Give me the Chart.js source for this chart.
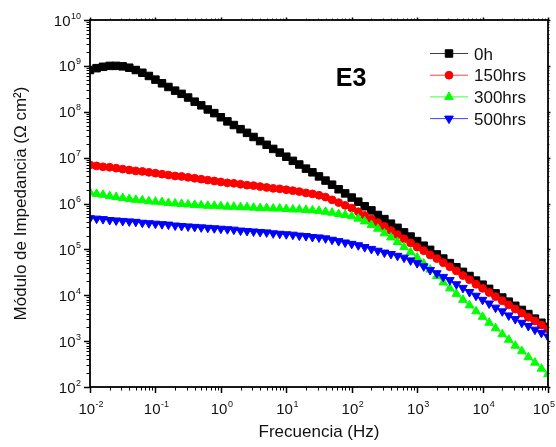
<!DOCTYPE html>
<html lang="es">
<head>
<meta charset="utf-8">
<title>Módulo de impedancia E3</title>
<script src="https://cdn.jsdelivr.net/npm/chart.js@4.4.1/dist/chart.umd.min.js"></script>
<style>
  html, body { margin: 0; padding: 0; background: #fff; }
  #wrap { width: 556px; height: 447px; }
</style>
</head>
<body>
<div id="wrap"><canvas id="bode" width="556" height="447"></canvas></div>
<script>
const FONT = '"Liberation Sans", Arial, Helvetica, sans-serif';

// measured frequencies, 10 points per decade (Hz)
const frequencies = [
  0.01, 0.0126, 0.0158, 0.02, 0.0251, 0.0316, 0.0398, 0.0501, 0.0631, 0.0794,
  0.1, 0.126, 0.158, 0.2, 0.251, 0.316, 0.398, 0.501, 0.631, 0.794,
  1, 1.26, 1.58, 2, 2.51, 3.16, 3.98, 5.01, 6.31, 7.94,
  10, 12.6, 15.8, 20, 25.1, 31.6, 39.8, 50.1, 63.1, 79.4,
  100, 126, 158, 200, 251, 316, 398, 501, 631, 794,
  1000, 1260, 1580, 2000, 2510, 3160, 3980, 5010, 6310, 7940,
  10000, 12600, 15800, 20000, 25100, 31600, 39800, 50100, 63100, 79400,
  100000,
];

// |Z| for each immersion time, written as decades: log10(|Z| / ohm cm2)
const logZ0h = [
  8.91, 8.95, 8.98, 9.00, 9.00, 8.99, 8.96, 8.91, 8.85, 8.78,
  8.70, 8.62, 8.54, 8.46, 8.39, 8.31, 8.22, 8.14, 8.05, 7.97,
  7.88, 7.79, 7.71, 7.62, 7.54, 7.45, 7.36, 7.28, 7.19, 7.11,
  7.02, 6.93, 6.85, 6.76, 6.68, 6.59, 6.50, 6.41, 6.31, 6.22,
  6.13, 6.04, 5.94, 5.85, 5.75, 5.66, 5.56, 5.47, 5.37, 5.28,
  5.18, 5.08, 4.99, 4.89, 4.80, 4.70, 4.61, 4.51, 4.42, 4.32,
  4.23, 4.14, 4.04, 3.95, 3.86, 3.77, 3.68, 3.59, 3.49, 3.40,
  3.31,
];
const logZ150h = [
  6.84, 6.82, 6.80, 6.79, 6.77, 6.75, 6.73, 6.71, 6.70, 6.68,
  6.66, 6.64, 6.62, 6.60, 6.59, 6.57, 6.55, 6.53, 6.51, 6.49,
  6.47, 6.45, 6.44, 6.42, 6.40, 6.39, 6.37, 6.35, 6.33, 6.32,
  6.30, 6.28, 6.26, 6.23, 6.21, 6.18, 6.14, 6.08, 6.02, 5.96,
  5.90, 5.82, 5.74, 5.66, 5.58, 5.50, 5.41, 5.32, 5.23, 5.14,
  5.05, 4.97, 4.88, 4.80, 4.71, 4.62, 4.53, 4.43, 4.34, 4.24,
  4.15, 4.06, 3.97, 3.88, 3.79, 3.70, 3.61, 3.52, 3.44, 3.35,
  3.26,
];
const logZ300h = [
  6.24, 6.21, 6.19, 6.16, 6.14, 6.12, 6.10, 6.08, 6.07, 6.05,
  6.04, 6.03, 6.01, 6.00, 5.99, 5.98, 5.97, 5.96, 5.95, 5.95,
  5.94, 5.93, 5.93, 5.92, 5.92, 5.91, 5.90, 5.90, 5.89, 5.89,
  5.88, 5.87, 5.87, 5.86, 5.85, 5.84, 5.82, 5.80, 5.77, 5.75,
  5.72, 5.67, 5.61, 5.53, 5.45, 5.35, 5.26, 5.16, 5.05, 4.94,
  4.82, 4.69, 4.56, 4.42, 4.28, 4.15, 4.03, 3.90, 3.78, 3.65,
  3.53, 3.40, 3.28, 3.15, 3.03, 2.90, 2.78, 2.65, 2.53, 2.40,
  2.28,
];
const logZ500h = [
  5.68, 5.67, 5.66, 5.64, 5.63, 5.62, 5.61, 5.60, 5.58, 5.57,
  5.56, 5.55, 5.54, 5.52, 5.51, 5.50, 5.49, 5.48, 5.47, 5.46,
  5.45, 5.44, 5.43, 5.41, 5.40, 5.39, 5.38, 5.37, 5.35, 5.34,
  5.33, 5.32, 5.30, 5.29, 5.27, 5.26, 5.24, 5.21, 5.18, 5.15,
  5.12, 5.09, 5.05, 5.01, 4.97, 4.93, 4.90, 4.86, 4.82, 4.76,
  4.70, 4.63, 4.55, 4.48, 4.40, 4.33, 4.24, 4.16, 4.07, 3.99,
  3.90, 3.82, 3.73, 3.65, 3.56, 3.48, 3.40, 3.33, 3.25, 3.18,
  3.10,
];

const seriesLabels = ["0h", "150hrs", "300hrs", "500hrs"];
const xTickExps = [-2, -1, 0, 1, 2, 3, 4, 5];
const yTickExps = [2, 3, 4, 5, 6, 7, 8, 9, 10];
const panelLabel = "E3";

function toPoints(logValues) {
  return frequencies.map((f, i) => ({ x: f, y: Math.pow(10, logValues[i]) }));
}

function makeSeries(label, logValues, color, pointStyle, radius, rotation, order) {
  return {
    label,
    data: toPoints(logValues),
    showLine: true,
    borderColor: color,
    borderWidth: 1,
    backgroundColor: color,
    pointStyle,
    pointRadius: radius,
    pointRotation: rotation,
    pointBackgroundColor: color,
    pointBorderColor: color,
    pointBorderWidth: 1,
    order,
  };
}

const datasets = [
  makeSeries(seriesLabels[0], logZ0h, "#000000", "rect", 5.3, 0, 4),
  makeSeries(seriesLabels[1], logZ150h, "#ff0000", "circle", 3.9, 0, 3),
  makeSeries(seriesLabels[2], logZ300h, "#00ff00", "triangle", 5, 0, 2),
  makeSeries(seriesLabels[3], logZ500h, "#0000ff", "triangle", 5, 180, 1),
];

// decade ticks plus the 2..9 minor ticks in between
function decadeTicks(exps) {
  const ticks = [];
  exps.forEach((e, i) => {
    ticks.push({ value: Math.pow(10, e), major: true, exp: e });
    if (i < exps.length - 1) {
      for (let m = 2; m <= 9; m++) {
        ticks.push({ value: m * Math.pow(10, e), major: false });
      }
    }
  });
  return ticks;
}

// "10" with a raised exponent; align is "center" or "right"
function drawPower(ctx, exp, px, baseline, align, maxRight) {
  const expText = String(exp);
  ctx.font = `15px ${FONT}`;
  const wBase = ctx.measureText("10").width;
  ctx.font = `9px ${FONT}`;
  const wExp = ctx.measureText(expText).width;
  const total = wBase + wExp + 0.5;
  let left = align === "center" ? px - total / 2 : px - total;
  if (maxRight !== undefined && left + total > maxRight) left = maxRight - total;
  ctx.textAlign = "left";
  ctx.textBaseline = "alphabetic";
  ctx.font = `15px ${FONT}`;
  ctx.fillText("10", left, baseline);
  ctx.font = `9px ${FONT}`;
  ctx.fillText(expText, left + wBase + 0.5, baseline - 7);
}

const axesFrame = {
  id: "axesFrame",
  afterDraw(chart) {
    const { ctx, chartArea: a, scales } = chart;
    const { x, y } = scales;
    ctx.save();
    ctx.strokeStyle = "#000";
    ctx.fillStyle = "#000";

    // tick marks: outward on bottom/left, short mirror ticks on top/right
    [true, false].forEach((major) => {
      ctx.lineWidth = major ? 1.5 : 1;
      const len = major ? 6 : 3.5;
      ctx.beginPath();
      x.ticks.filter((t) => !!t.major === major).forEach((t) => {
        const px = Math.round(x.getPixelForValue(t.value)) + 0.5;
        ctx.moveTo(px, a.bottom);
        ctx.lineTo(px, a.bottom + len);
        ctx.moveTo(px, a.top);
        ctx.lineTo(px, a.top - len / 2.5);
      });
      y.ticks.filter((t) => !!t.major === major).forEach((t) => {
        const py = Math.round(y.getPixelForValue(t.value)) + 0.5;
        ctx.moveTo(a.left, py);
        ctx.lineTo(a.left - len, py);
        ctx.moveTo(a.right, py);
        ctx.lineTo(a.right + len / 2.5, py);
      });
      ctx.stroke();
    });

    ctx.lineWidth = 1.8;
    ctx.strokeRect(a.left, a.top, a.right - a.left, a.bottom - a.top);

    // tick labels as powers of ten
    ctx.fillStyle = "#111";
    x.ticks.filter((t) => t.major).forEach((t) => {
      drawPower(ctx, t.exp, x.getPixelForValue(t.value) + 1, a.bottom + 27, "center", 555);
    });
    y.ticks.filter((t) => t.major).forEach((t) => {
      drawPower(ctx, t.exp, a.left - 9, y.getPixelForValue(t.value) + 5.5, "right");
    });

    // panel tag
    ctx.fillStyle = "#000";
    ctx.font = `bold 25px ${FONT}`;
    ctx.textAlign = "center";
    ctx.textBaseline = "alphabetic";
    ctx.fillText(panelLabel, 351, 86);

    // legend: line - marker - line, then the label
    chart.data.datasets.forEach((ds, i) => {
      const rowY = 53.5 + i * 21.7;
      ctx.strokeStyle = ds.borderColor;
      ctx.lineWidth = 1;
      ctx.globalAlpha = 0.75;
      ctx.beginPath();
      ctx.moveTo(430, rowY);
      ctx.lineTo(468, rowY);
      ctx.stroke();
      ctx.globalAlpha = 1;
      ctx.fillStyle = ds.pointBackgroundColor;
      ctx.strokeStyle = ds.pointBorderColor;
      Chart.helpers.drawPoint(ctx, {
        pointStyle: ds.pointStyle,
        radius: ds.pointRadius,
        rotation: ds.pointRotation,
        borderWidth: ds.pointBorderWidth,
      }, 449, rowY);
      ctx.fillStyle = "#111";
      ctx.font = `17px ${FONT}`;
      ctx.textAlign = "left";
      ctx.fillText(ds.label, 474, rowY + 6);
    });
    ctx.restore();
  },
};

new Chart(document.getElementById("bode"), {
  type: "scatter",
  data: { datasets },
  options: {
    responsive: false,
    devicePixelRatio: 1,
    animation: false,
    events: [],
    layout: { padding: { top: 20, right: 8, left: 0, bottom: 0 } },
    plugins: {
      legend: { display: false },
      tooltip: { enabled: false },
    },
    scales: {
      x: {
        type: "logarithmic",
        min: 1e-2,
        max: 1e5,
        grid: { display: false },
        border: { display: false },
        ticks: { display: false },
        afterBuildTicks: (scale) => { scale.ticks = decadeTicks(xTickExps); },
        afterFit: (scale) => { scale.height = 60; },
        title: {
          display: true,
          text: "Frecuencia (Hz)",
          color: "#111",
          font: { family: FONT, size: 17 },
          padding: { top: 0, bottom: 4 },
        },
      },
      y: {
        type: "logarithmic",
        min: 1e2,
        max: 1e10,
        grid: { display: false },
        border: { display: false },
        ticks: { display: false },
        afterBuildTicks: (scale) => { scale.ticks = decadeTicks(yTickExps); },
        afterFit: (scale) => { scale.width = 90; },
        title: {
          display: true,
          text: "Módulo de Impedancia (Ω cm²)",
          color: "#111",
          font: { family: FONT, size: 17 },
          padding: { top: 11, bottom: 0 },
        },
      },
    },
  },
  plugins: [axesFrame],
});
</script>
</body>
</html>
